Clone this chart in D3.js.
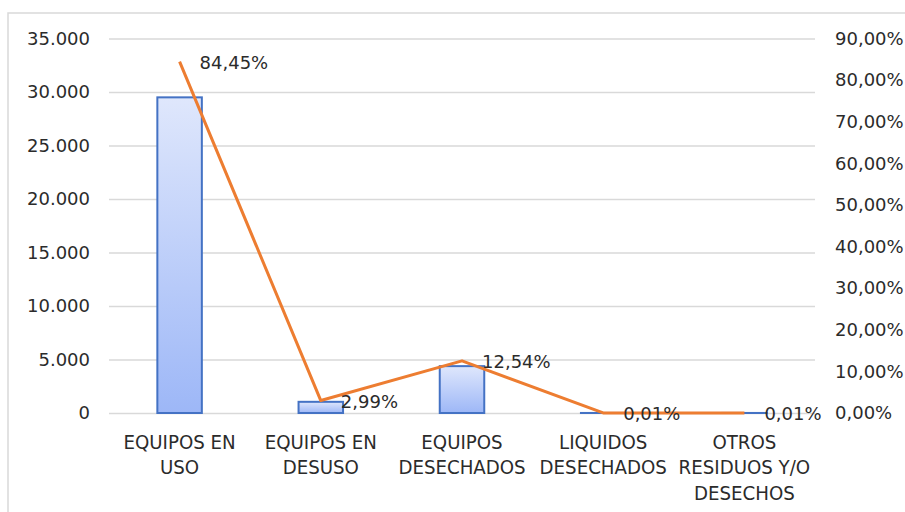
<!DOCTYPE html>
<html>
<head>
<meta charset="utf-8">
<script src="https://cdn.jsdelivr.net/npm/d3@7"></script>
<style>
  body { margin: 0; background: #fff; }
  text { font-family: "DejaVu Sans", sans-serif; fill: #2b2b2b; }
</style>
</head>
<body>
<div class="chart"></div>
<script>
// categories, one entry per label line
var categories = [
  ["EQUIPOS EN", "USO"],
  ["EQUIPOS EN", "DESUSO"],
  ["EQUIPOS", "DESECHADOS"],
  ["LIQUIDOS", "DESECHADOS"],
  ["OTROS", "RESIDUOS Y/O", "DESECHOS"]
];
// bar values (cantidad)
var counts = [29500, 1045, 4380, 4, 4];
// line values (porcentaje)
var shares = [0.8445, 0.0299, 0.1254, 0.0001, 0.0001];
var leftTicks = [0, 5000, 10000, 15000, 20000, 25000, 30000, 35000];
var rightTicks = [0, 0.1, 0.2, 0.3, 0.4, 0.5, 0.6, 0.7, 0.8, 0.9];

var width = 905, height = 512;
var margin = { top: 38.5, right: 90, bottom: 99, left: 109 };
var chart_width = 815 - margin.left,
  chart_height = 413 - margin.top;

var es = d3.formatLocale({ decimal: ",", thousands: ".", grouping: [3], currency: ["", "€"] });
var fmtNum = es.format(",.0f");
var fmtPct = es.format(".2%");

var svg = d3.select(".chart").append("svg")
  .attr("width", width)
  .attr("height", height);

// outer chart border
svg.append("rect")
  .attr("x", 8).attr("y", 13)
  .attr("width", 920).attr("height", 530)
  .attr("fill", "none")
  .attr("stroke", "#d9d9d9")
  .attr("stroke-width", 1.5);

var g = svg.append("g")
  .attr("transform", "translate(" + margin.left + "," + margin.top + ")");

var xScale = d3.scaleBand().domain(d3.range(categories.length)).range([0, chart_width]);
var yScale = d3.scaleLinear().domain([0, 35000]).range([chart_height, 0]);
var y2Scale = d3.scaleLinear().domain([0, 0.9]).range([chart_height, 0]);

// gridlines
g.append("g")
  .attr("class", "grid")
  .call(d3.axisLeft(yScale).tickValues(leftTicks).tickSize(-chart_width).tickFormat(""))
  .call(function (s) {
    s.select(".domain").remove();
    s.selectAll("line").attr("stroke", "#d9d9d9").attr("stroke-width", 1.5);
  });

// left axis labels
g.append("g")
  .attr("class", "axis axis--y")
  .call(d3.axisLeft(yScale).tickValues(leftTicks).tickSize(0).tickPadding(19).tickFormat(fmtNum))
  .call(function (s) {
    s.select(".domain").remove();
    s.selectAll("text").attr("font-size", "18px").attr("fill", "#2b2b2b")
      .attr("font-family", "DejaVu Sans");
  });

// right axis labels
g.append("g")
  .attr("class", "axis axis--y2")
  .attr("transform", "translate(" + chart_width + ",0)")
  .call(d3.axisRight(y2Scale).tickValues(rightTicks).tickSize(0).tickPadding(20).tickFormat(fmtPct))
  .call(function (s) {
    s.select(".domain").remove();
    s.selectAll("text").attr("font-size", "18px").attr("fill", "#2b2b2b")
      .attr("font-family", "DejaVu Sans");
  });

// bar gradient
var grad = svg.append("defs").append("linearGradient")
  .attr("id", "barGrad")
  .attr("x1", 0).attr("y1", 0).attr("x2", 0).attr("y2", 1);
grad.append("stop").attr("offset", "0%").attr("stop-color", "#dfe7fc");
grad.append("stop").attr("offset", "100%").attr("stop-color", "#9db7f7");

var barW = 44.5;
g.selectAll("rect.bar")
  .data(counts)
  .enter().append("rect")
  .attr("class", "bar")
  .attr("x", function (d, i) { return xScale(i) + xScale.bandwidth() / 2 - barW / 2; })
  .attr("y", function (d) { return yScale(d); })
  .attr("width", barW)
  .attr("height", function (d) { return chart_height - yScale(d); })
  .attr("fill", "url(#barGrad)")
  .attr("stroke", "#4472c4")
  .attr("stroke-width", 2);

// line for share
var lineGen = d3.line()
  .x(function (d, i) { return xScale(i) + xScale.bandwidth() / 2; })
  .y(function (d) { return y2Scale(d); });

g.append("path")
  .attr("d", lineGen(shares))
  .attr("fill", "none")
  .attr("stroke", "#ed7d31")
  .attr("stroke-width", 3)
  .attr("stroke-linejoin", "round");

// share labels
g.selectAll("text.pct")
  .data(shares)
  .enter().append("text")
  .attr("class", "pct")
  .attr("x", function (d, i) { return xScale(i) + xScale.bandwidth() / 2 + 20; })
  .attr("y", function (d) { return y2Scale(d) + 7; })
  .attr("font-size", "18px")
  .text(function (d) { return fmtPct(d); });

// category labels (slightly condensed, taller caps as in the original)
var cat = g.selectAll("text.cat")
  .data(categories)
  .enter().append("text")
  .attr("class", "cat")
  .attr("text-anchor", "middle")
  .attr("font-size", "20px")
  .attr("transform", function (d, i) {
    return "translate(" + (xScale(i) + xScale.bandwidth() / 2) + "," + (chart_height + 36) + ") scale(0.91,1)";
  });
cat.selectAll("tspan")
  .data(function (d) { return d; })
  .enter().append("tspan")
  .attr("x", 0)
  .attr("y", function (d, i) { return i * 25.5; })
  .text(function (d) { return d; });
</script>
</body>
</html>
